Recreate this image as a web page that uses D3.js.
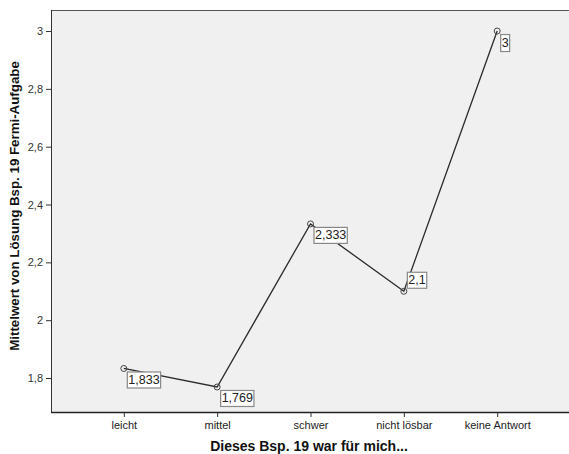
<!DOCTYPE html>
<html><head><meta charset="utf-8">
<script src="https://cdn.jsdelivr.net/npm/d3@7"></script>
<style>
body{margin:0;background:#fff;}
svg{display:block;font-family:"Liberation Sans",Arial,sans-serif;}
</style></head>
<body>
<svg id="c" width="569" height="454"></svg>
<script>
const categories = ["leicht","mittel","schwer","nicht lösbar","keine Antwort"];
const values = [1.833, 1.769, 2.333, 2.1, 3];
const valueLabels = ["1,833","1,769","2,333","2,1","3"];
const yTicks = [1.8, 2, 2.2, 2.4, 2.6, 2.8, 3];
const yTickLabels = ["1,8","2","2,2","2,4","2,6","2,8","3"];
const labelSide = ["below","below","below","above","below"];

const svg = d3.select("#c");
const L = 51, R = 570, T = 10, B = 412;
const x = d3.scalePoint().domain(categories).range([L, R]).padding(0.78);
const y = d3.scaleLinear().domain([1.6825, 3.0727]).range([B, T]);

svg.append("rect").attr("x", L).attr("y", T).attr("width", R - L).attr("height", B - T)
  .attr("fill", "#f0f0f0");
svg.append("line").attr("x1", L).attr("x2", R).attr("y1", T + 0.5).attr("y2", T + 0.5)
  .attr("stroke", "#555").attr("stroke-width", 1);

const yAxis = svg.append("g").attr("transform", `translate(${L},0)`)
  .call(d3.axisLeft(y).tickValues(yTicks).tickSize(5).tickPadding(3)
    .tickFormat((d, i) => yTickLabels[i]));
yAxis.select(".domain").attr("stroke", "#333").attr("d", `M0.5,${T}V${B}`);
yAxis.selectAll(".tick line").attr("stroke", "#333");
yAxis.selectAll(".tick text").attr("fill", "#333").style("font-size", "11px")
  .style("font-family", "Liberation Sans, Arial, sans-serif");

const xAxis = svg.append("g").attr("transform", `translate(0,${B})`)
  .call(d3.axisBottom(x).tickSize(5).tickPadding(4));
xAxis.select(".domain").attr("stroke", "#222").attr("stroke-width", 1.5).attr("d", `M${L},0.5H${R}`);
xAxis.selectAll(".tick line").attr("stroke", "#333");
xAxis.selectAll(".tick text").attr("fill", "#222").style("font-size", "11px")
  .style("font-family", "Liberation Sans, Arial, sans-serif");

const pts = categories.map((c, i) => [x(c), y(values[i])]);
svg.append("path").attr("d", d3.line()(pts)).attr("fill", "none")
  .attr("stroke", "#2a2a2a").attr("stroke-width", 1.3);

svg.selectAll("circle.m").data(pts).enter().append("circle")
  .attr("cx", d => d[0]).attr("cy", d => d[1]).attr("r", 3)
  .attr("fill", "none").attr("stroke", "#444").attr("stroke-width", 1);

categories.forEach((c, i) => {
  const px = x(c), py = y(values[i]);
  const g = svg.append("g");
  const t = g.append("text").text(valueLabels[i]).attr("fill", "#222")
    .style("font-size", "12.5px").attr("dominant-baseline", "middle");
  const w = t.node().getComputedTextLength();
  const bw = w + 2, bh = valueLabels[i].length === 1 ? 17 : 16;
  const bx = px + 3.5;
  const by = labelSide[i] === "above" ? py - 19 : py + 3.5;
  g.insert("rect", "text").attr("x", bx).attr("y", by).attr("width", bw).attr("height", bh)
    .attr("fill", "#fff").attr("stroke", "#888").attr("stroke-width", 1.2);
  t.attr("x", bx + 1).attr("y", by + bh / 2 + 0.5);
});

svg.append("text").attr("x", 309).attr("y", 451).attr("text-anchor", "middle")
  .style("font-size", "14px").style("font-weight", "bold").attr("fill", "#111")
  .text("Dieses Bsp. 19 war für mich...");
svg.append("text").attr("transform", `translate(19,206) rotate(-90)`)
  .attr("text-anchor", "middle").style("font-size", "13.3px").style("font-weight", "bold")
  .attr("fill", "#111").text("Mittelwert von Lösung Bsp. 19 Fermi-Aufgabe");
</script>
</body></html>
